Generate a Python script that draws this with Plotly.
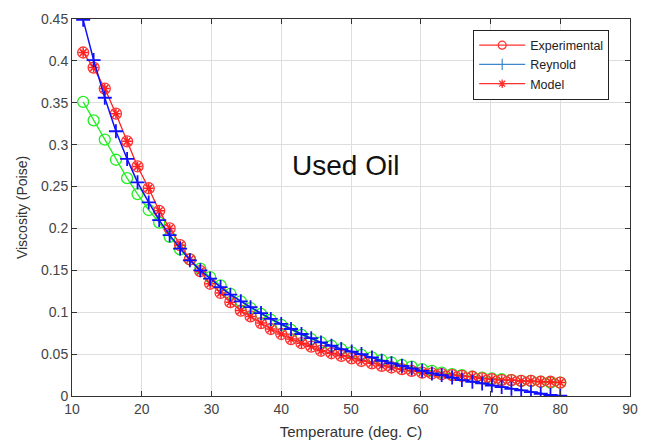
import plotly.graph_objects as go

temperature = [11.6, 13.1, 14.7, 16.3, 17.9, 19.4, 21.0, 22.5, 24.0, 25.5, 26.9, 28.4,
               29.8, 31.3, 32.7, 34.2, 35.6, 37.1, 38.5, 40.0, 41.4, 42.9, 44.3, 45.7,
               47.2, 48.6, 50.1, 51.5, 53.0, 54.4, 55.8, 57.3, 58.7, 60.2, 61.6, 63.0,
               64.5, 65.9, 67.4, 68.8, 70.2, 71.6, 73.0, 74.4, 75.8, 77.2, 78.6, 80.0]

reynold = [0.449, 0.401, 0.356, 0.316, 0.283, 0.255, 0.231, 0.210, 0.192, 0.176, 0.162, 0.150,
           0.140, 0.130, 0.121, 0.113, 0.106, 0.099, 0.092, 0.086, 0.080, 0.074, 0.069, 0.064,
           0.060, 0.056, 0.053, 0.050, 0.046, 0.042, 0.039, 0.036, 0.033, 0.030, 0.027, 0.025,
           0.022, 0.019, 0.017, 0.015, 0.0125, 0.0106, 0.0086, 0.0067, 0.0047, 0.0027, 0.0012, 0.0003]

model = [0.410, 0.392, 0.367, 0.337, 0.304, 0.274, 0.248, 0.221, 0.200, 0.180, 0.163, 0.149,
         0.134, 0.123, 0.112, 0.102, 0.095, 0.087, 0.080, 0.074, 0.068, 0.063, 0.059, 0.054,
         0.051, 0.048, 0.045, 0.042, 0.039, 0.036, 0.034, 0.032, 0.030, 0.028, 0.027, 0.026,
         0.025, 0.024, 0.023, 0.021, 0.020, 0.019, 0.019, 0.018, 0.018, 0.017, 0.017, 0.016]

measured = [0.351, 0.329, 0.306, 0.282, 0.260, 0.241, 0.222, 0.207, 0.190, 0.175, 0.163, 0.152,
            0.142, 0.132, 0.122, 0.113, 0.105, 0.098, 0.091, 0.085, 0.079, 0.073, 0.068, 0.064,
            0.060, 0.056, 0.052, 0.049, 0.046, 0.043, 0.040, 0.037, 0.035, 0.032, 0.030, 0.028,
            0.026, 0.025, 0.023, 0.022, 0.021, 0.020, 0.019, 0.018, 0.018, 0.017, 0.016, 0.016]

legend_names = ["Experimental", "Reynold", "Model"]

FONT = "Liberation Sans, Arial"

fig = go.Figure()

# green curve (not in legend)
fig.add_trace(go.Scatter(x=temperature, y=measured, mode="lines+markers", showlegend=False,
                         line=dict(color="#22ee22", width=1.3),
                         marker=dict(symbol="circle-open", size=11, color="#22ee22",
                                     line=dict(width=1.3))))
# red curve: circles + asterisks
fig.add_trace(go.Scatter(x=temperature, y=model, mode="lines+markers", showlegend=False,
                         line=dict(color="#ff2020", width=1.3),
                         marker=dict(symbol="circle-open", size=11, color="#ff3030",
                                     line=dict(width=1.3))))
fig.add_trace(go.Scatter(x=temperature, y=model, mode="markers", showlegend=False,
                         marker=dict(symbol="asterisk-open", size=8, color="#ff2020",
                                     line=dict(width=1.5, color="#ff2020"))))
# blue curve
fig.add_trace(go.Scatter(x=temperature, y=reynold, mode="lines+markers", showlegend=False,
                         line=dict(color="#1010ff", width=1.5),
                         marker=dict(symbol="cross-thin-open", size=10, color="#1010ff",
                                     line=dict(width=1.8, color="#1010ff"))))

# legend entries
fig.add_trace(go.Scatter(x=[None], y=[None], mode="lines+markers", name=legend_names[0],
                         line=dict(color="#ff3030", width=1.2),
                         marker=dict(symbol="circle-open", size=8, color="#ff3030",
                                     line=dict(width=1.2))))
fig.add_trace(go.Scatter(x=[None], y=[None], mode="lines+markers", name=legend_names[1],
                         line=dict(color="#3f86c8", width=1.2),
                         marker=dict(symbol="line-ns-open", size=8, color="#3f86c8",
                                     line=dict(width=1.2, color="#3f86c8"))))
fig.add_trace(go.Scatter(x=[None], y=[None], mode="lines+markers", name=legend_names[2],
                         line=dict(color="#ff3030", width=1.2),
                         marker=dict(symbol="asterisk-open", size=7, color="#ff3030",
                                     line=dict(width=1.3, color="#ff3030"))))

fig.add_annotation(x=49.2, y=0.275, text="Used Oil", showarrow=False,
                   font=dict(family=FONT, size=28, color="#111111"))

axis_common = dict(showline=True, linecolor="#333333", linewidth=1, mirror="ticks",
                   ticks="inside", ticklen=5, tickcolor="#333333",
                   showgrid=True, gridcolor="#dedede", gridwidth=1, zeroline=False,
                   tickfont=dict(family=FONT, size=14, color="#444444"))

fig.update_layout(
    width=649, height=448,
    margin=dict(l=72, r=11, t=15, b=49),
    plot_bgcolor="white", paper_bgcolor="white",
    xaxis=dict(range=[10, 90], dtick=10, tick0=10,
               title=dict(text="Temperature (deg. C)", standoff=10,
                          font=dict(family=FONT, size=15, color="#333333")),
               **axis_common),
    yaxis=dict(range=[0, 0.45], dtick=0.05, tick0=0,
               title=dict(text="Viscosity (Poise)", standoff=10,
                          font=dict(family=FONT, size=14, color="#333333")),
               **axis_common),
    legend=dict(x=0.719, y=0.972, xanchor="left", yanchor="top",
                bordercolor="#222222", borderwidth=1, bgcolor="white",
                font=dict(family=FONT, size=12.5, color="#222222"),
                tracegroupgap=0, itemwidth=46),
)

fig.write_html("out.html")
